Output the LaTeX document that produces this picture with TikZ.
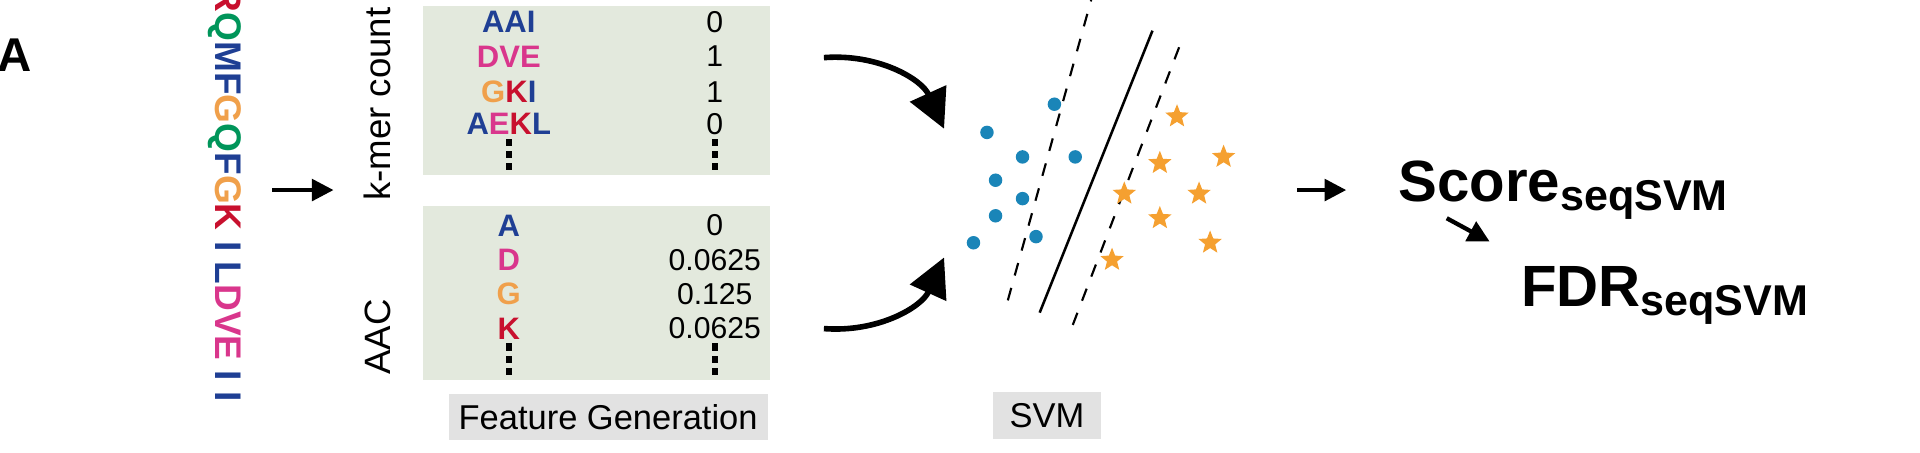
\documentclass[tikz,border=0pt]{standalone}
\usepackage{fontspec}
\setmainfont{Liberation Sans}
\usetikzlibrary{calc, shapes.geometric, arrows.meta}
\definecolor{aared}{HTML}{C8102E}
\definecolor{aagreen}{HTML}{00955A}
\definecolor{aablue}{HTML}{1F3F94}
\definecolor{aaorange}{HTML}{F0A04B}
\definecolor{aapink}{HTML}{D9368C}
\definecolor{featbg}{HTML}{E3E9DD}
\definecolor{tagbg}{HTML}{E2E2E2}
\definecolor{dotblue}{HTML}{1A85B8}
\definecolor{starorange}{HTML}{F5A030}
\newcommand{\R}[1]{\textcolor{aared}{#1}}
\newcommand{\Gr}[1]{\textcolor{aagreen}{#1}}
\newcommand{\B}[1]{\textcolor{aablue}{#1}}
\newcommand{\Or}[1]{\textcolor{aaorange}{#1}}
\newcommand{\Pk}[1]{\textcolor{aapink}{#1}}
\tikzset{
    featbox/.style = {fill = featbg, draw = none},
    tagbox/.style = {fill = tagbg, inner sep = 0pt, minimum height = 0.38cm, font = \fontsize{8}{9}\selectfont},
    kmer/.style = {font = \fontsize{7.2}{8}\selectfont\bfseries},
    val/.style = {font = \fontsize{7}{8}\selectfont},
    posdot/.style = {circle, fill = dotblue, inner sep = 0pt, minimum size = 0.11cm},
    negstar/.style = {star, star points = 5, star point ratio = 2.3, fill = starorange, inner sep = 0pt, minimum size = 0.2cm},
    flow/.style = {-{Triangle[length = 5pt, width = 5pt]}, line width = 0.9pt},
}
\begin{document}
\begin{tikzpicture}
            \useasboundingbox (0, 0) rectangle (15.66, 3.69);
            
            \node[font = \fontsize{11}{12}\selectfont\bfseries] (panel) at (0.12, 3.24) {A};
            
            \node[rotate = -90, font = \fontsize{8.6}{9}\selectfont\bfseries] (seq) at (1.83, 2.11)
                {\R{R}\Gr{Q}\B{MF}\Or{G}\Gr{Q}\B{F}\Or{G}\R{K} \B{I} \B{L}\Pk{DVE} \B{I} \B{I}};
            
            \coordinate (seq_out) at (2.22, 2.14);
            \coordinate (feat_in) at (2.72, 2.14);
            \draw[flow] (seq_out) -- (feat_in);
            
            \node[rotate = 90, font = \fontsize{8.5}{9}\selectfont] (kmer_lab) at (3.08, 2.84) {k-mer count};
            \node[rotate = 90, font = \fontsize{8.5}{9}\selectfont] (aac_lab) at (3.08, 0.94) {AAC};
            
            % feature tables
            \fill[featbox] (3.45, 2.26) rectangle (6.28, 3.64);
            \fill[featbox] (3.45, 0.59) rectangle (6.28, 2.01);
            
            \node[kmer] (k1) at (4.15, 3.51) {\B{AAI}};
            \node[kmer] (k2) at (4.15, 3.23) {\Pk{DVE}};
            \node[kmer] (k3) at (4.15, 2.94) {\Or{G}\R{K}\B{I}};
            \node[kmer] (k4) at (4.15, 2.68) {\B{A}\Pk{E}\R{K}\B{L}};
            \node[val] (v1) at (5.83, 3.51) {0};
            \node[val] (v2) at (5.83, 3.23) {1};
            \node[val] (v3) at (5.83, 2.94) {1};
            \node[val] (v4) at (5.83, 2.68) {0};
            
            \node[kmer] (a1) at (4.15, 1.85) {\B{A}};
            \node[kmer] (a2) at (4.15, 1.57) {\Pk{D}};
            \node[kmer] (a3) at (4.15, 1.29) {\Or{G}};
            \node[kmer] (a4) at (4.15, 1.01) {\R{K}};
            \node[val] (w1) at (5.83, 1.85) {0};
            \node[val] (w2) at (5.83, 1.57) {0.0625};
            \node[val] (w3) at (5.83, 1.29) {0.125};
            \node[val] (w4) at (5.83, 1.01) {0.0625};
            
            \foreach \x in {4.15, 5.83}{
                \foreach \y in {2.33, 2.43, 2.53, 0.66, 0.76, 0.86}{
                    \fill (\x - 0.025, \y - 0.03) rectangle (\x + 0.025, \y + 0.03);
                }
            }
            
            \node[tagbox, minimum width = 2.6cm] (feat_tag) at (4.96, 0.29) {Feature Generation};
            
            % curved arrows into the classifier
            \coordinate (kmer_out) at (6.72, 3.22);
            \coordinate (aac_out) at (6.72, 1.01);
            \coordinate (svm_in_top) at (7.70, 2.64);
            \coordinate (svm_in_bot) at (7.70, 1.59);
            \draw[line width = 1.3pt, -{Triangle[length = 9pt, width = 9pt]}] (kmer_out) to[bend left = 35] (svm_in_top);
            \draw[line width = 1.3pt, -{Triangle[length = 9pt, width = 9pt]}] (aac_out) to[bend right = 35] (svm_in_bot);
            
            % hyperplane and margins
            \draw[dashed, line width = 0.5pt] (8.22, 1.24) -- (8.90, 3.69);
            \draw[line width = 0.6pt] (8.48, 1.14) -- (9.40, 3.44);
            \draw[dashed, line width = 0.5pt] (8.75, 1.04) -- (9.65, 3.39);
            
            \foreach \x/\y [count = \i] in {8.60/2.84, 8.05/2.61, 8.34/2.41, 8.77/2.41, 8.12/2.22, 8.34/2.07, 8.12/1.93, 7.94/1.71, 8.45/1.76}{
                \node[posdot] (p\i) at (\x, \y) {};
            }
            \foreach \x/\y [count = \i] in {9.60/2.74, 9.46/2.36, 9.98/2.41, 9.17/2.11, 9.78/2.11, 9.46/1.91, 9.87/1.71, 9.07/1.57}{
                \node[negstar] (n\i) at (\x, \y) {};
            }
            
            \node[tagbox, minimum width = 0.88cm] (svm_tag) at (8.54, 0.30) {SVM};
            
            \coordinate (svm_out) at (10.58, 2.14);
            \coordinate (score_in) at (10.98, 2.14);
            \draw[flow] (svm_out) -- (score_in);
            
            \node[anchor = base west, inner sep = 0pt, font = \fontsize{13.5}{14}\selectfont\bfseries] (score) at (11.40, 2.05)
                {Score\textsubscript{\fontsize{10}{11}\selectfont seqSVM}};
            \node[anchor = base west, inner sep = 0pt, font = \fontsize{13.5}{14}\selectfont\bfseries] (fdr) at (12.40, 1.19)
                {FDR\textsubscript{\fontsize{10}{11}\selectfont seqSVM}};
            
            \coordinate (sf_from) at (11.80, 1.91);
            \coordinate (sf_to) at (12.15, 1.72);
            \draw[line width = 1pt, -{Triangle[length = 5pt, width = 5pt]}] (sf_from) -- (sf_to);
        \end{tikzpicture}
\end{document}
